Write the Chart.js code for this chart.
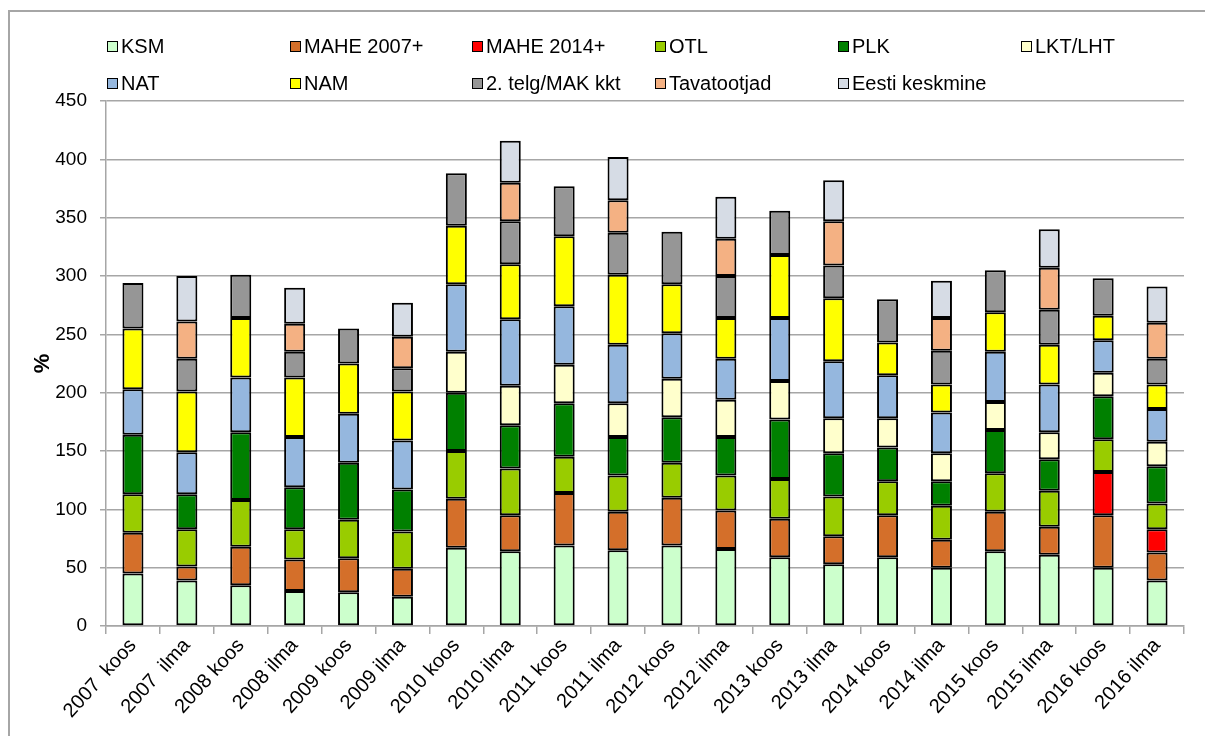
<!DOCTYPE html>
<html>
<head>
<meta charset="utf-8">
<script src="https://cdn.jsdelivr.net/npm/chart.js@4.4.1/dist/chart.umd.min.js"></script>
<style>
  html, body { margin:0; padding:0; background:#fff; }
  body { width:1205px; height:736px; position:relative; overflow:hidden; font-family:"Liberation Sans", Arial, sans-serif; }
  #frame { position:absolute; left:8px; top:10px; width:1210px; height:800px; border:2px solid #A6A6A6; box-sizing:border-box; }
  #wrap { position:absolute; left:0; top:0; width:1205px; height:736px; }
  .lg { position:absolute; font-size:20px; color:#000; white-space:nowrap; line-height:20px; }
  .lg span.sw { display:inline-block; width:9px; height:9px; border:1.5px solid #000; margin-right:3px; vertical-align:1px; }
</style>
</head>
<body>
<div id="frame"></div>
<div id="wrap"><canvas id="c" width="1205" height="736"></canvas></div>
<div id="legend"></div>
<script>
const categories = ["2007  koos","2007  ilma","2008 koos","2008 ilma","2009 koos","2009 ilma","2010 koos","2010 ilma","2011 koos","2011 ilma","2012 koos","2012 ilma","2013 koos","2013 ilma","2014 koos","2014 ilma","2015 koos","2015 ilma","2016 koos","2016 ilma"];

const seriesNames = ["KSM","MAHE 2007+","MAHE 2014+","OTL","PLK","LKT/LHT","NAT","NAM","2. telg/MAK kkt","Tavatootjad","Eesti keskmine"];
const seriesColors = ["#CCFFCC","#D46F2A","#FF0000","#99CC00","#008000","#FFFFCC","#95B7DE","#FFFF00","#969696","#F4B183","#D6DCE5"];

const KSM    = [45,39,35,30,29,25,67,64,69,65,69,66,59,53,59,50,64,61,50,39];
const MAHE07 = [35,12,33,27,29,24,42,31,45,33,41,33,33,24,36,24,34,24,45,24];
const MAHE14 = [null,null,null,null,null,null,null,null,null,null,null,null,null,null,null,null,null,null,37,20];
const OTL    = [33,32,40,26,33,32,41,40,31,31,30,30,34,34,29,29,33,31,28,22];
const PLK    = [51,30,58,36,49,36,50,37,46,33,39,33,51,37,29,21,37,27,37,32];
const LKT    = [null,null,null,null,null,null,35,34,33,29,33,32,33,30,25,24,24,23,20,21];
const NAT    = [39,36,47,43,42,42,58,57,50,50,39,35,54,49,37,35,43,41,28,28];
const NAM    = [52,52,51,51,43,42,50,47,60,60,42,35,54,54,28,24,34,34,21,21];
const TELG2  = [39,28,37,22,30,20,45,37,43,36,45,36,38,28,37,29,36,30,32,22];
const TAVA   = [null,32,null,24,null,27,null,33,null,28,null,32,null,38,null,28,null,36,null,31];
const EESTI  = [null,39,null,31,null,29,null,36,null,37,null,36,null,35,null,32,null,33,null,31];

const yTicks = [0,50,100,150,200,250,300,350,400,450];

const seriesData = [KSM,MAHE07,MAHE14,OTL,PLK,LKT,NAT,NAM,TELG2,TAVA,EESTI];

// HTML legend laid out in a grid like the original
const legendPos = [
  [107,36],[290,36],[472,36],[655,36],[838,36],[1021,36],
  [107,73],[290,73],[472,73],[655,73],[838,73]
];
const lgEl = document.getElementById('legend');
seriesNames.forEach((n,i)=>{
  const d = document.createElement('div');
  d.className = 'lg';
  d.style.left = legendPos[i][0] + 'px';
  d.style.top = legendPos[i][1] + 'px';
  const sw = document.createElement('span');
  sw.className = 'sw';
  sw.style.background = seriesColors[i];
  d.appendChild(sw);
  d.appendChild(document.createTextNode(n));
  lgEl.appendChild(d);
});

const FONT = "'Liberation Sans', Arial, sans-serif";
const PADL = 30;

new Chart(document.getElementById('c'), {
  type: 'bar',
  data: {
    labels: categories,
    datasets: seriesNames.map((n,i)=>({
      label: n,
      data: seriesData[i],
      backgroundColor: seriesColors[i],
      borderColor: '#000',
      borderWidth: 2,
      borderSkipped: false,
      barPercentage: 0.39,
      categoryPercentage: 1.0
    }))
  },
  options: {
    responsive: false,
    animation: false,
    devicePixelRatio: 1,
    layout: { padding: { top: 101, right: 21, left: PADL, bottom: 0 } },
    plugins: { legend: { display: false }, tooltip: { enabled: false } },
    scales: {
      x: {
        stacked: true,
        afterFit: s => { s.height = 110; },
        grid: { offset: true, drawOnChartArea: false, color: '#A6A6A6', lineWidth: 1.5, tickLength: 8 },
        border: { color: '#A6A6A6', width: 1.5 },
        ticks: { color: '#000', font: { family: FONT, size: 20 }, minRotation: 48, maxRotation: 48, autoSkip: false, padding: 0 }
      },
      y: {
        stacked: true,
        min: 0, max: 450,
        afterFit: s => { s.width = 106 - PADL; },
        afterBuildTicks: s => { s.ticks = yTicks.map(v => ({ value: v })); },
        grid: { color: '#A6A6A6', lineWidth: 1.5, tickLength: 6 },
        border: { color: '#A6A6A6', width: 1.5 },
        ticks: { color: '#000', font: { family: FONT, size: 19 }, padding: 13 },
        title: { display: true, text: '%', color: '#000', font: { family: FONT, size: 22, weight: 'bold' }, padding: 0 }
      }
    }
  }
});
</script>
</body>
</html>
